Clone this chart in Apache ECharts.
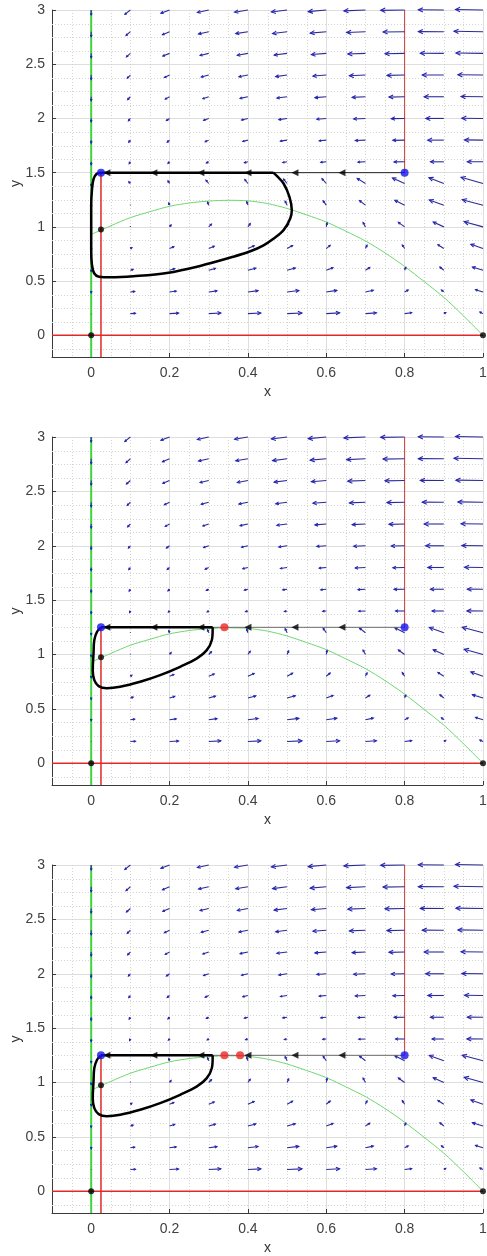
<!DOCTYPE html>
<html><head><meta charset="utf-8">
<script src="https://cdn.jsdelivr.net/npm/echarts@6/dist/echarts.min.js"></script>
<style>html,body{margin:0;padding:0;background:#fff}#c{width:487px;height:1256px}</style>
</head><body><div id="c"></div>
<script>
// ---------------- data ----------------
const xCols = [0, 0.1, 0.2, 0.3, 0.4, 0.5, 0.6, 0.7, 0.8, 0.9, 1.0];
// field above the switching line
const yRowsB = [3.0, 2.8, 2.6, 2.4, 2.2, 2.0, 1.8, 1.6, 1.4];
const uB = [
  [0, -0.014, -0.022, -0.029, -0.034, -0.040, -0.046, -0.055, -0.061, -0.065, -0.070],
  [0, -0.011, -0.018, -0.026, -0.031, -0.037, -0.041, -0.048, -0.055, -0.065, -0.074],
  [0, -0.010, -0.017, -0.022, -0.027, -0.033, -0.038, -0.045, -0.050, -0.060, -0.069],
  [0, -0.008, -0.013, -0.019, -0.023, -0.029, -0.034, -0.041, -0.045, -0.055, -0.064],
  [0, -0.007, -0.011, -0.015, -0.020, -0.026, -0.029, -0.034, -0.040, -0.050, -0.056],
  [0, -0.005, -0.008, -0.013, -0.016, -0.021, -0.024, -0.030, -0.034, -0.046, -0.054],
  [0, -0.004, -0.006, -0.009, -0.013, -0.017, -0.018, -0.026, -0.030, -0.041, -0.047],
  [0, -0.003, -0.004, -0.006, -0.009, -0.011, -0.014, -0.019, -0.027, -0.034, -0.040],
  [0, -0.002, -0.003, -0.004, -0.006, -0.007, -0.009, -0.017, -0.023, -0.030, -0.041]
];
const vB = [
  [-0.046, -0.040, -0.030, -0.023, -0.020, -0.018, -0.015, -0.008, -0.003, 0.002, 0.005],
  [-0.046, -0.035, -0.028, -0.021, -0.018, -0.017, -0.013, -0.008, -0.003, 0.001, 0.004],
  [-0.041, -0.032, -0.025, -0.019, -0.018, -0.015, -0.011, -0.006, -0.003, 0.001, 0.003],
  [-0.041, -0.029, -0.023, -0.018, -0.016, -0.014, -0.009, -0.006, -0.003, 0.001, 0.003],
  [-0.037, -0.026, -0.022, -0.018, -0.015, -0.012, -0.008, -0.006, -0.003, 0, 0.002],
  [-0.032, -0.022, -0.020, -0.017, -0.014, -0.011, -0.007, -0.005, -0.002, 0, 0.002],
  [-0.028, -0.019, -0.018, -0.015, -0.012, -0.009, -0.006, -0.004, -0.002, 0, 0.002],
  [-0.028, -0.017, -0.014, -0.011, -0.008, -0.006, -0.005, -0.003, -0.001, 0, 0.001],
  [-0.023, -0.014, -0.011, -0.008, -0.006, -0.005, -0.003, -0.002, 0, 0, 0.001]
];
// field below the switching line
const yRowsA = [1.4, 1.2, 1.0, 0.8, 0.6, 0.4, 0.2];
const uA = [
  [0, -0.004, -0.004, -0.007, -0.008, -0.009, -0.011, -0.021, -0.031, -0.038, -0.056],
  [0, 0.000, -0.002, -0.003, -0.003, -0.005, -0.008, -0.015, -0.025, -0.037, -0.053],
  [0, 0.000, 0.004, 0.007, 0.006, 0.004, 0.002, -0.006, -0.016, -0.027, -0.048],
  [0, 0.004, 0.011, 0.014, 0.016, 0.014, 0.010, 0.004, -0.006, -0.015, -0.031],
  [0, 0.007, 0.013, 0.017, 0.020, 0.021, 0.017, 0.011, 0.003, -0.010, -0.027],
  [0, 0.011, 0.017, 0.021, 0.026, 0.030, 0.027, 0.020, 0.009, -0.006, -0.019],
  [0, 0.013, 0.023, 0.031, 0.033, 0.038, 0.034, 0.028, 0.018, 0.005, -0.008]
];
const vA = [
  [-0.023, 0.016, 0.024, 0.030, 0.037, 0.041, 0.044, 0.047, 0.051, 0.053, 0.057],
  [-0.018, 0.007, 0.020, 0.028, 0.033, 0.037, 0.040, 0.042, 0.046, 0.048, 0.051],
  [-0.018, 0.007, 0.018, 0.026, 0.030, 0.033, 0.037, 0.040, 0.042, 0.044, 0.048],
  [-0.014, 0.009, 0.017, 0.021, 0.026, 0.028, 0.030, 0.031, 0.033, 0.035, 0.039],
  [-0.011, 0.008, 0.014, 0.017, 0.019, 0.021, 0.023, 0.025, 0.027, 0.030, 0.030],
  [-0.009, 0.005, 0.008, 0.010, 0.012, 0.013, 0.014, 0.015, 0.017, 0.018, 0.021],
  [-0.005, 0.002, 0.005, 0.006, 0.006, 0.006, 0.007, 0.007, 0.008, 0.010, 0.014]
];
// switching level per panel
const thresholds = [1.5, 1.25, 1.25];
// prey nullcline (green curve)
const nullX = [0, 0.05, 0.1, 0.15, 0.2, 0.25, 0.3, 0.35, 0.4, 0.45, 0.5, 0.55, 0.6, 0.65, 0.7, 0.75, 0.8, 0.85, 0.9, 0.95, 1.0];
const nullY = [0.93, 1.01, 1.085, 1.14, 1.19, 1.22, 1.238, 1.245, 1.24, 1.215, 1.17, 1.11, 1.045, 0.96, 0.87, 0.76, 0.635, 0.495, 0.35, 0.18, 0];
// predator nullclines (red verticals)
const leftX = 0.025, rightX = 0.8;
// closed orbits
const cycle1 = [[0.025,1.5],[0.014,1.49],[0.006,1.44],[0.002,1.34],[0,1.2],[0,1.0],[0,0.8],[0.002,0.65],[0.008,0.57],[0.02,0.54],[0.05,0.535],[0.108,0.545],[0.193,0.575],[0.278,0.64],[0.363,0.725],[0.406,0.775],[0.44,0.83],[0.465,0.89],[0.491,0.97],[0.508,1.077],[0.512,1.154],[0.506,1.277],[0.491,1.40],[0.475,1.465],[0.465,1.5]];
const cycle2 = [[0.025,1.25],[0.015,1.209],[0.008,1.133],[0.006,1.01],[0.004,0.856],[0.008,0.764],[0.019,0.709],[0.04,0.69],[0.074,0.703],[0.125,0.749],[0.176,0.81],[0.227,0.887],[0.27,0.964],[0.295,1.04],[0.308,1.133],[0.31,1.225],[0.31,1.25]];
const cycles = [cycle1, cycle2, cycle2];
const cycleEndX = [0.465, 0.31, 0.31];
// arrow marks along the switching line
const markX = [0.04, 0.16, 0.28, 0.40, 0.52, 0.64];
// equilibria
const blackPts = [[0, 0], [1, 0], [0.025, 0.975]];
const redPts = [[], [[0.34, 1.25]], [[0.34, 1.25], [0.38, 1.25]]];

// ---------------- chart ----------------
const FONT = 'Liberation Sans, Arial, Helvetica, sans-serif';
const gridsPx = [{top: 10, height: 347}, {top: 437, height: 348}, {top: 865, height: 348}];
const thinColor = ['#222222', '#6a6a6a', '#6a6a6a'];

function fieldFor(th) {
  const out = [];
  yRowsB.forEach((y, r) => { if (y > th) xCols.forEach((x, c) => out.push([x, y, uB[r][c], vB[r][c]])); });
  yRowsA.forEach((y, r) => { if (y < th) xCols.forEach((x, c) => out.push([x, y, uA[r][c], vA[r][c]])); });
  return out;
}

function arrowRender(params, api) {
  const x = api.value(0), y = api.value(1), u = api.value(2), v = api.value(3);
  const p0 = api.coord([x, y]);
  const p1 = api.coord([x + u, y + v]);
  const dx = p1[0] - p0[0], dy = p1[1] - p0[1];
  const L = Math.hypot(dx, dy);
  const col = '#2b2b98';
  const ch = [{type: 'line', shape: {x1: p0[0], y1: p0[1], x2: p1[0], y2: p1[1]}, style: {stroke: col, lineWidth: 1.1}}];
  if (L > 0.8) {
    const h = Math.max(2, Math.min(5, L * 0.3));
    const a = Math.atan2(dy, dx);
    const a1 = a + Math.PI - 0.45, a2 = a + Math.PI + 0.45;
    ch.push({type: 'polyline', shape: {points: [[p1[0] + h * Math.cos(a1), p1[1] + h * Math.sin(a1)], [p1[0], p1[1]], [p1[0] + h * Math.cos(a2), p1[1] + h * Math.sin(a2)]]},
      style: {stroke: '#2424b8', fill: null, lineWidth: 1.1}});
  }
  return {type: 'group', children: ch};
}

function vMinor(params, api) {
  const p = api.coord([api.value(0), 0]);
  const cs = params.coordSys;
  const xx = Math.round(p[0]) + 0.5;
  return {type: 'line', shape: {x1: xx, y1: cs.y, x2: xx, y2: cs.y + cs.height}, style: {stroke: '#d4d4d4', lineWidth: 1, lineDash: [1, 2]}};
}
function hMinor(params, api) {
  const p = api.coord([0, api.value(1)]);
  const cs = params.coordSys;
  const yy = Math.round(p[1]) + 0.5;
  return {type: 'line', shape: {x1: cs.x, y1: yy, x2: cs.x + cs.width, y2: yy}, style: {stroke: '#d4d4d4', lineWidth: 1, lineDash: [1, 2]}};
}
// minor grid positions (layout only)
const minorXs = [], minorYs = [];
for (let k = -1; k <= 19; k++) { const v = k * 0.05; if (k % 4 !== 0) minorXs.push([+v.toFixed(3), 0]); }
for (let k = -1; k <= 24; k++) { const v = k * 0.125; if (k % 4 !== 0) minorYs.push([0, +v.toFixed(3)]); }

const grid = [], xAxis = [], yAxis = [], series = [];
gridsPx.forEach((g, i) => {
  grid.push({left: 52, right: 4, top: g.top, height: g.height, containLabel: false, outerBoundsMode: 'none'});
  xAxis.push({
    gridIndex: i, type: 'value', min: -0.1, max: 1,
    name: 'x', nameLocation: 'middle', nameGap: 28, nameMoveOverlap: false,
    nameTextStyle: {color: '#333', fontSize: 14, fontFamily: FONT},
    axisLine: {show: true, onZero: false, lineStyle: {color: '#3a3a3a', width: 1}},
    axisTick: {show: true, inside: true, length: 4, lineStyle: {color: '#3a3a3a'}},
    axisLabel: {showMinLabel: false, margin: 9, color: '#404040', fontSize: 14, fontFamily: FONT},
    splitLine: {show: true, lineStyle: {color: '#dedede', width: 1}}
  });
  yAxis.push({
    gridIndex: i, type: 'value', min: -0.2, max: 3,
    name: 'y', nameLocation: 'middle', nameGap: 29, nameMoveOverlap: false,
    nameTextStyle: {color: '#333', fontSize: 14, fontFamily: FONT},
    axisLine: {show: true, onZero: false, lineStyle: {color: '#3a3a3a', width: 1}},
    axisTick: {show: true, inside: true, length: 4, lineStyle: {color: '#3a3a3a'}},
    axisLabel: {showMinLabel: false, margin: 7, color: '#404040', fontSize: 14, fontFamily: FONT},
    splitLine: {show: true, lineStyle: {color: '#dedede', width: 1}}
  });
  const th = thresholds[i];
  const base = {xAxisIndex: i, yAxisIndex: i, silent: true, animation: false};
  series.push(Object.assign({type: 'custom', renderItem: vMinor, data: minorXs, encode: {x: 0, y: 1}, z: 1}, base));
  series.push(Object.assign({type: 'custom', renderItem: hMinor, data: minorYs, encode: {x: 0, y: 1}, z: 1}, base));
  const lineS = (data, color, width, z, smooth) => Object.assign({type: 'line', data: data, showSymbol: false, symbol: 'none', smooth: smooth || false,
    lineStyle: {color: color, width: width}, z: z}, base);
  series.push(lineS(nullX.map((x, k) => [x, nullY[k]]), '#6fd86f', 1, 2, 0.3));
  series.push(lineS([[0, -0.2], [0, 3]], '#3fd33f', 2, 2));
  series.push(lineS([[-0.1, 0], [1, 0]], '#e02a2a', 1.5, 2));
  series.push(lineS([[leftX, -0.2], [leftX, th]], '#e02a2a', 1.5, 2));
  series.push(lineS([[rightX, th], [rightX, 3]], '#cc3a3a', 1, 2));
  series.push(Object.assign({type: 'custom', renderItem: arrowRender, data: fieldFor(th), encode: {x: 0, y: 1}, clip: false, z: 3}, base));
  series.push(lineS([[leftX, th], [rightX, th]], thinColor[i], 1, 4));
  series.push(lineS(cycles[i], '#000000', 2.5, 5, 0.35));
  series.push(lineS([[cycleEndX[i], th], [leftX, th]], '#000000', 2.5, 5));
  series.push(Object.assign({type: 'scatter', data: markX.map(x => [x, th]), symbol: 'triangle', symbolRotate: 90, symbolSize: [7, 7],
    itemStyle: {color: '#000'}, z: 6}, base));
  series.push(Object.assign({type: 'scatter', data: blackPts, symbol: 'circle', symbolSize: 6, itemStyle: {color: '#000'}, z: 7}, base));
  series.push(Object.assign({type: 'scatter', data: [[leftX, th], [rightX, th]], symbol: 'circle', symbolSize: 8, itemStyle: {color: '#1414f0'}, z: 7}, base));
  series.push(Object.assign({type: 'scatter', data: redPts[i], symbol: 'circle', symbolSize: 8, itemStyle: {color: '#f02424'}, z: 7}, base));
});

const chart = echarts.init(document.getElementById('c'), null, {renderer: 'canvas'});
chart.setOption({animation: false, backgroundColor: '#ffffff', grid, xAxis, yAxis, series});
</script>
</body></html>
